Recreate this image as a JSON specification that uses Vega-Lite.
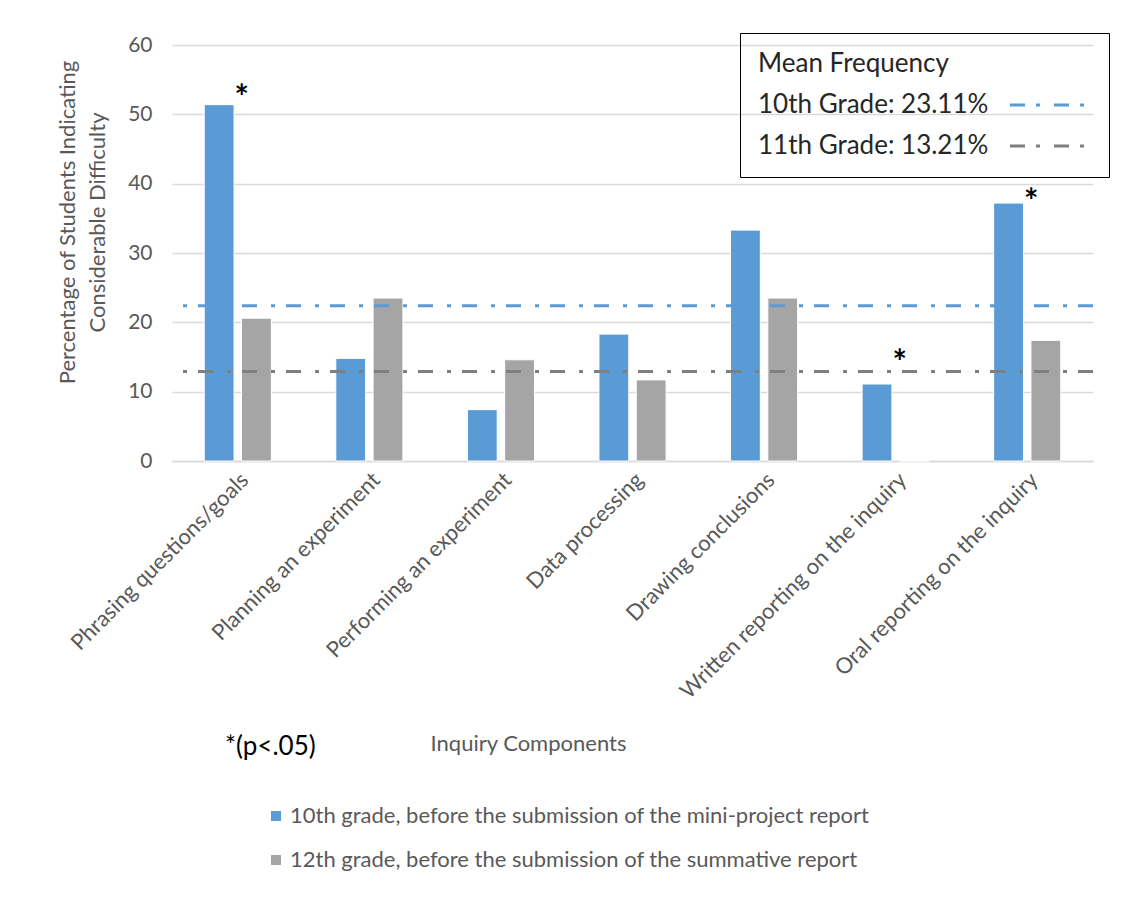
{
  "$schema": "https://vega.github.io/schema/vega-lite/v6.json",
  "width": 921,
  "height": 416,
  "autosize": {"type": "none"},
  "padding": {"left": 172, "top": 45, "right": 34, "bottom": 443},
  "background": "white",
  "config": {
    "view": {"stroke": null},
    "font": "Lato",
    "text": {"font": "Lato"}
  },
  "title": {
    "text": "*(p<.05)",
    "orient": "bottom",
    "anchor": "start",
    "frame": "group",
    "font": "Lato",
    "fontSize": 26,
    "fontWeight": "normal",
    "color": "black",
    "dx": 53,
    "offset": -137
  },
  "datasets": {
    "bars": [
      {"component": "Phrasing questions/goals", "group": "10th grade, before the submission of the mini-project report", "value": 51.4},
      {"component": "Phrasing questions/goals", "group": "12th grade, before the submission of the summative report", "value": 20.6},
      {"component": "Planning an experiment", "group": "10th grade, before the submission of the mini-project report", "value": 14.8},
      {"component": "Planning an experiment", "group": "12th grade, before the submission of the summative report", "value": 23.5},
      {"component": "Performing an experiment", "group": "10th grade, before the submission of the mini-project report", "value": 7.4},
      {"component": "Performing an experiment", "group": "12th grade, before the submission of the summative report", "value": 14.6},
      {"component": "Data processing", "group": "10th grade, before the submission of the mini-project report", "value": 18.3},
      {"component": "Data processing", "group": "12th grade, before the submission of the summative report", "value": 11.7},
      {"component": "Drawing conclusions", "group": "10th grade, before the submission of the mini-project report", "value": 33.3},
      {"component": "Drawing conclusions", "group": "12th grade, before the submission of the summative report", "value": 23.5},
      {"component": "Written reporting on the inquiry", "group": "10th grade, before the submission of the mini-project report", "value": 11.1},
      {"component": "Written reporting on the inquiry", "group": "12th grade, before the submission of the summative report", "value": 0},
      {"component": "Oral reporting on the inquiry", "group": "10th grade, before the submission of the mini-project report", "value": 37.2},
      {"component": "Oral reporting on the inquiry", "group": "12th grade, before the submission of the summative report", "value": 17.4}
    ],
    "means": [
      {"grade": "10th Grade: 23.11%", "mean": 22.4},
      {"grade": "11th Grade: 13.21%", "mean": 12.9}
    ],
    "stars": [
      {"component": "Phrasing questions/goals", "pos": 53.2},
      {"component": "Written reporting on the inquiry", "pos": 15.0},
      {"component": "Oral reporting on the inquiry", "pos": 38.2}
    ]
  },
  "layer": [
    {
      "data": {"name": "bars"},
      "mark": {"type": "bar", "stroke": "white", "strokeWidth": 1},
      "encoding": {
        "x": {
          "field": "component",
          "type": "nominal",
          "sort": null,
          "scale": {"paddingInner": 0.49, "paddingOuter": 0.245},
          "axis": {
            "title": "Inquiry Components",
            "titleFont": "Lato",
            "titleFontSize": 22,
            "titleFontWeight": "normal",
            "titleColor": "#595959",
            "titleX": 356,
            "titleY": 282,
            "titleAlign": "center",
            "titleBaseline": "middle",
            "labelAngle": -45,
            "labelFont": "Lato",
            "labelFontSize": 22,
            "labelColor": "#595959",
            "labelPadding": 8,
            "labelLimit": 500,
            "ticks": false,
            "domainColor": "#D9D9D9",
            "domainWidth": 1.5
          }
        },
        "xOffset": {
          "field": "group",
          "type": "nominal",
          "scale": {"paddingInner": 0.2}
        },
        "y": {
          "field": "value",
          "type": "quantitative",
          "scale": {"domain": [0, 60]},
          "axis": {
            "values": [0, 10, 20, 30, 40, 50, 60],
            "title": ["Percentage of Students Indicating", "Considerable Difficulty"],
            "titleFont": "Lato",
            "titleFontSize": 22,
            "titleFontWeight": "normal",
            "titleColor": "#595959",
            "titleLineHeight": 30,
            "titleAngle": 270,
            "titleX": -105,
            "titleY": 177,
            "titleAlign": "center",
            "titleBaseline": "middle",
            "labelFont": "Lato",
            "labelFontSize": 21,
            "labelColor": "#595959",
            "labelPadding": 20,
            "ticks": false,
            "domain": false,
            "gridColor": "#D9D9D9",
            "gridWidth": 1.5
          }
        },
        "fill": {
          "field": "group",
          "type": "nominal",
          "scale": {
            "domain": ["10th grade, before the submission of the mini-project report", "12th grade, before the submission of the summative report"],
            "range": ["#5B9BD5", "#A5A5A5"]
          },
          "legend": {
            "orient": "none",
            "legendX": 93,
            "legendY": 760,
            "title": null,
            "symbolType": "square",
            "symbolSize": 100,
            "symbolStrokeWidth": 0,
            "labelFont": "Lato",
            "labelFontSize": 22,
            "labelColor": "#595959",
            "labelOffset": 3,
            "rowPadding": 22,
            "labelLimit": 800
          }
        }
      }
    },
    {
      "data": {"name": "means"},
      "mark": {"type": "rule", "strokeWidth": 3, "strokeDash": [15, 11, 4, 14]},
      "encoding": {
        "y": {"field": "mean", "type": "quantitative"},
        "stroke": {
          "field": "grade",
          "type": "nominal",
          "scale": {"domain": ["10th Grade: 23.11%", "11th Grade: 13.21%"], "range": ["#5B9BD5", "#7F7F7F"]},
          "legend": {
            "orient": "none",
            "legendX": 568,
            "legendY": -12,
            "title": "Mean Frequency",
            "titleFont": "Lato",
            "titleFontSize": 26,
            "titleFontWeight": "normal",
            "titleColor": "#262626",
            "titlePadding": 15,
            "titleLimit": 400,
            "padding": 18,
            "strokeColor": "#000000",
            "symbolType": "M 23.9 0 L 31.4 0",
            "symbolSize": 400,
            "symbolStrokeWidth": 3,
            "symbolDash": [15, 11, 4, 14],
            "labelAlign": "left",
            "labelOffset": -26,
            "labelFont": "Lato",
            "labelFontSize": 26,
            "labelColor": "#262626",
            "labelLimit": 500,
            "rowPadding": 15
          }
        }
      }
    },
    {
      "data": {"name": "stars"},
      "mark": {"type": "text", "text": "*", "font": "Lato", "fontSize": 34, "fontWeight": "bold", "color": "black", "dx": 4, "dy": 7, "baseline": "middle"},
      "encoding": {
        "x": {"field": "component", "type": "nominal", "sort": null},
        "y": {"field": "pos", "type": "quantitative"}
      }
    }
  ]
}
